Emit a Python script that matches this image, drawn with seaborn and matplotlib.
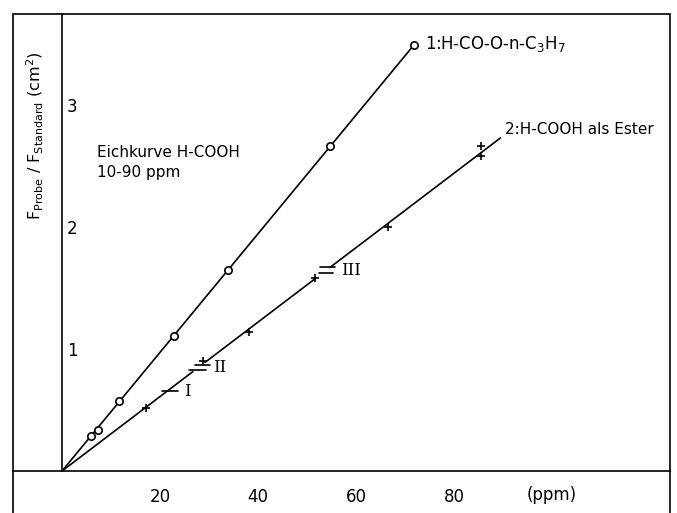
import matplotlib
matplotlib.use("Agg")
import numpy as np
import pandas as pd
import seaborn as sns
import matplotlib.pyplot as plt
from matplotlib.patches import Rectangle

# calibration data
ester_ppm = [5.9, 7.3, 11.6, 22.9, 33.9, 54.7, 71.8]
ester_area = [0.29, 0.34, 0.57, 1.11, 1.65, 2.66, 3.49]

acid_ppm = [17.1, 28.8, 38.2, 51.6, 66.5, 85.5, 85.5]
acid_area = [0.52, 0.90, 1.14, 1.58, 2.00, 2.66, 2.58]

# pieces of line 2 between the range switches
acid_segments = [(0.0, 26.7), (29.2, 51.6), (54.7, 89.5)]

x_ticks = [20, 40, 60, 80]
y_ticks = [1, 2, 3]

sns.set_theme(style="white")
plt.rcParams['font.family'] = ['DejaVu Sans']
plt.rcParams['mathtext.fontset'] = 'dejavusans'
plt.rcParams['text.color'] = 'black'

df1 = pd.DataFrame({"ppm": ester_ppm, "area": ester_area})
df2 = pd.DataFrame({"ppm": acid_ppm, "area": acid_area})

fig = plt.figure(figsize=(6.77, 5.13), dpi=100)
ax = fig.add_axes([13 / 677, -5 / 513, 657 / 677, 504 / 513])
ax.set_xlim(-10.0, 124.1)
ytop = 3.746
ax.set_ylim(-0.385, ytop)

# straight lines through the origin
k1 = np.sum(df1.ppm * df1.area) / np.sum(df1.ppm ** 2)
k2 = np.sum(df2.ppm * df2.area) / np.sum(df2.ppm ** 2)
xs = np.array([0, df1.ppm.max()])
ax.plot(xs, k1 * xs, color="black", lw=1.2, zorder=2)
for a, b in acid_segments:
    xs = np.array([a, b])
    ax.plot(xs, k2 * xs, color="black", lw=1.2, zorder=2)

sns.scatterplot(data=df1, x="ppm", y="area", marker="o", s=28, facecolor="white",
                edgecolor="black", linewidth=1.2, ax=ax, zorder=3)
sns.scatterplot(data=df2, x="ppm", y="area", marker="+", s=30, color="black",
                linewidth=1.2, ax=ax, zorder=3)

# range marks I, II, III
ax.plot([20.4, 23.7], [0.66, 0.66], color="black", lw=1.2)
ax.text(25.0, 0.655, "I", fontsize=12, family="DejaVu Serif", va="center")
ax.plot([27.1, 30.2], [0.87, 0.87], color="black", lw=1.2)
ax.plot([25.9, 29.4], [0.83, 0.83], color="black", lw=1.2)
ax.text(30.8, 0.85, "II", fontsize=12, family="DejaVu Serif", va="center")
ax.plot([52.7, 55.7], [1.67, 1.67], color="black", lw=1.2)
ax.plot([52.4, 55.3], [1.62, 1.62], color="black", lw=1.2)
ax.text(57.0, 1.64, "III", fontsize=12, family="DejaVu Serif", va="center")

# axes through the origin, open frame around
ax.spines["left"].set_position(("data", 0))
ax.spines["left"].set_bounds(0, ytop)
ax.spines["bottom"].set_position(("data", 0))
ax.spines["top"].set_visible(False)
ax.spines["right"].set_visible(False)
for s in ["left", "bottom"]:
    ax.spines[s].set_color("black")
    ax.spines[s].set_linewidth(1.2)
ax.add_patch(Rectangle((0, 0), 1, 1, transform=ax.transAxes, fill=False,
                       lw=1.2, edgecolor="black", clip_on=False))

ax.set_xticks(x_ticks)
ax.set_yticks(y_ticks)
ax.tick_params(axis="both", direction="inout", length=9, width=1.2,
               colors="black", labelsize=12)
ax.tick_params(axis="x", pad=8)
ax.tick_params(axis="y", pad=-8)
plt.setp(ax.get_yticklabels(), ha="left")
ax.set_xlabel("")
ax.set_ylabel("")

ax.text(100, -0.2, "(ppm)", fontsize=12, ha="center", va="center")
ax.text(-5.5, 2.75, r"F$_{\mathrm{Probe}}$ / F$_{\mathrm{Standard}}$ (cm$^2$)",
        fontsize=11.5, rotation=90, ha="center", va="center")
ax.text(7.1, 2.61, "Eichkurve H-COOH", fontsize=11, va="center")
ax.text(7.1, 2.45, "10-90 ppm", fontsize=11, va="center")
ax.text(74.0, 3.5, r"1:H-CO-O-n-C$_3$H$_7$", fontsize=12, va="center")
ax.text(90.5, 2.8, "2:H-COOH als Ester", fontsize=11, va="center")

fig.savefig("out.png", dpi=100)
